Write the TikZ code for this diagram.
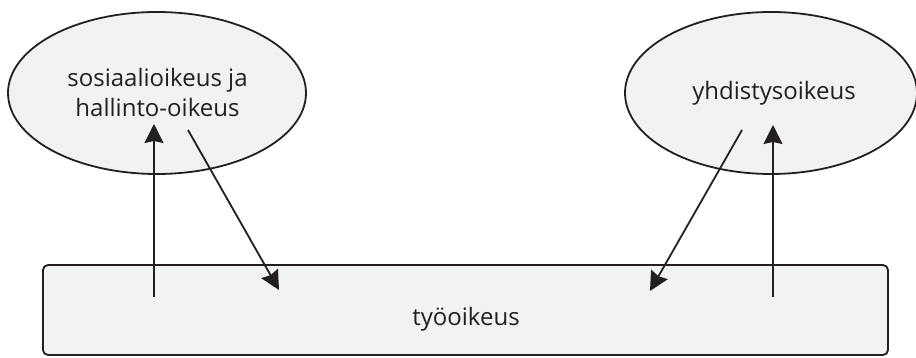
\documentclass[tikz,border=0pt]{standalone}
\usepackage{fontspec}
\setmainfont{Open Sans}
\usetikzlibrary{shapes.geometric,arrows.meta}
\definecolor{fillgrey}{HTML}{F1F2F4}
\definecolor{ink}{HTML}{231F20}
\begin{document}
\begin{tikzpicture}[x=1pt,y=1pt,
  blob/.style={ellipse,draw=ink,fill=fillgrey,line width=1.8pt,inner sep=0pt},
  base/.style={rectangle,rounded corners=5pt,draw=ink,fill=fillgrey,line width=1.8pt,inner sep=0pt},
  conn/.style={draw=ink,line width=1.8pt,-{Stealth[length=19pt,width=19pt,inset=2pt]}},
  lbl/.style={font=\fontsize{24}{30}\selectfont,text=ink,align=center,anchor=base,inner sep=0pt}]
\useasboundingbox (0,0) rectangle (916,358);
\node[blob,minimum width=298pt,minimum height=162pt] (soc) at (157,265) {};
\node[lbl] (soct) at (157.5,241) {sosiaalioikeus ja\\hallinto-oikeus};
\node[blob,minimum width=292pt,minimum height=162pt] (yhd) at (771,265) {};
\node[lbl] (yhdt) at (774,258) {yhdistysoikeus};
\node[base,minimum width=845pt,minimum height=90pt] (tyo) at (465.5,48) {};
\node[lbl] (tyot) at (466,32) {työoikeus};
\coordinate (a1s) at (154,61);
\coordinate (a1e) at (154,234);
\coordinate (a2s) at (188,228);
\coordinate (a2e) at (279,68);
\coordinate (a3s) at (742,228);
\coordinate (a3e) at (650,67);
\coordinate (a4s) at (773,61);
\coordinate (a4e) at (773,233);
\draw[conn] (a1s) -- (a1e);
\draw[conn] (a2s) -- (a2e);
\draw[conn] (a3s) -- (a3e);
\draw[conn] (a4s) -- (a4e);
\end{tikzpicture}
\end{document}
